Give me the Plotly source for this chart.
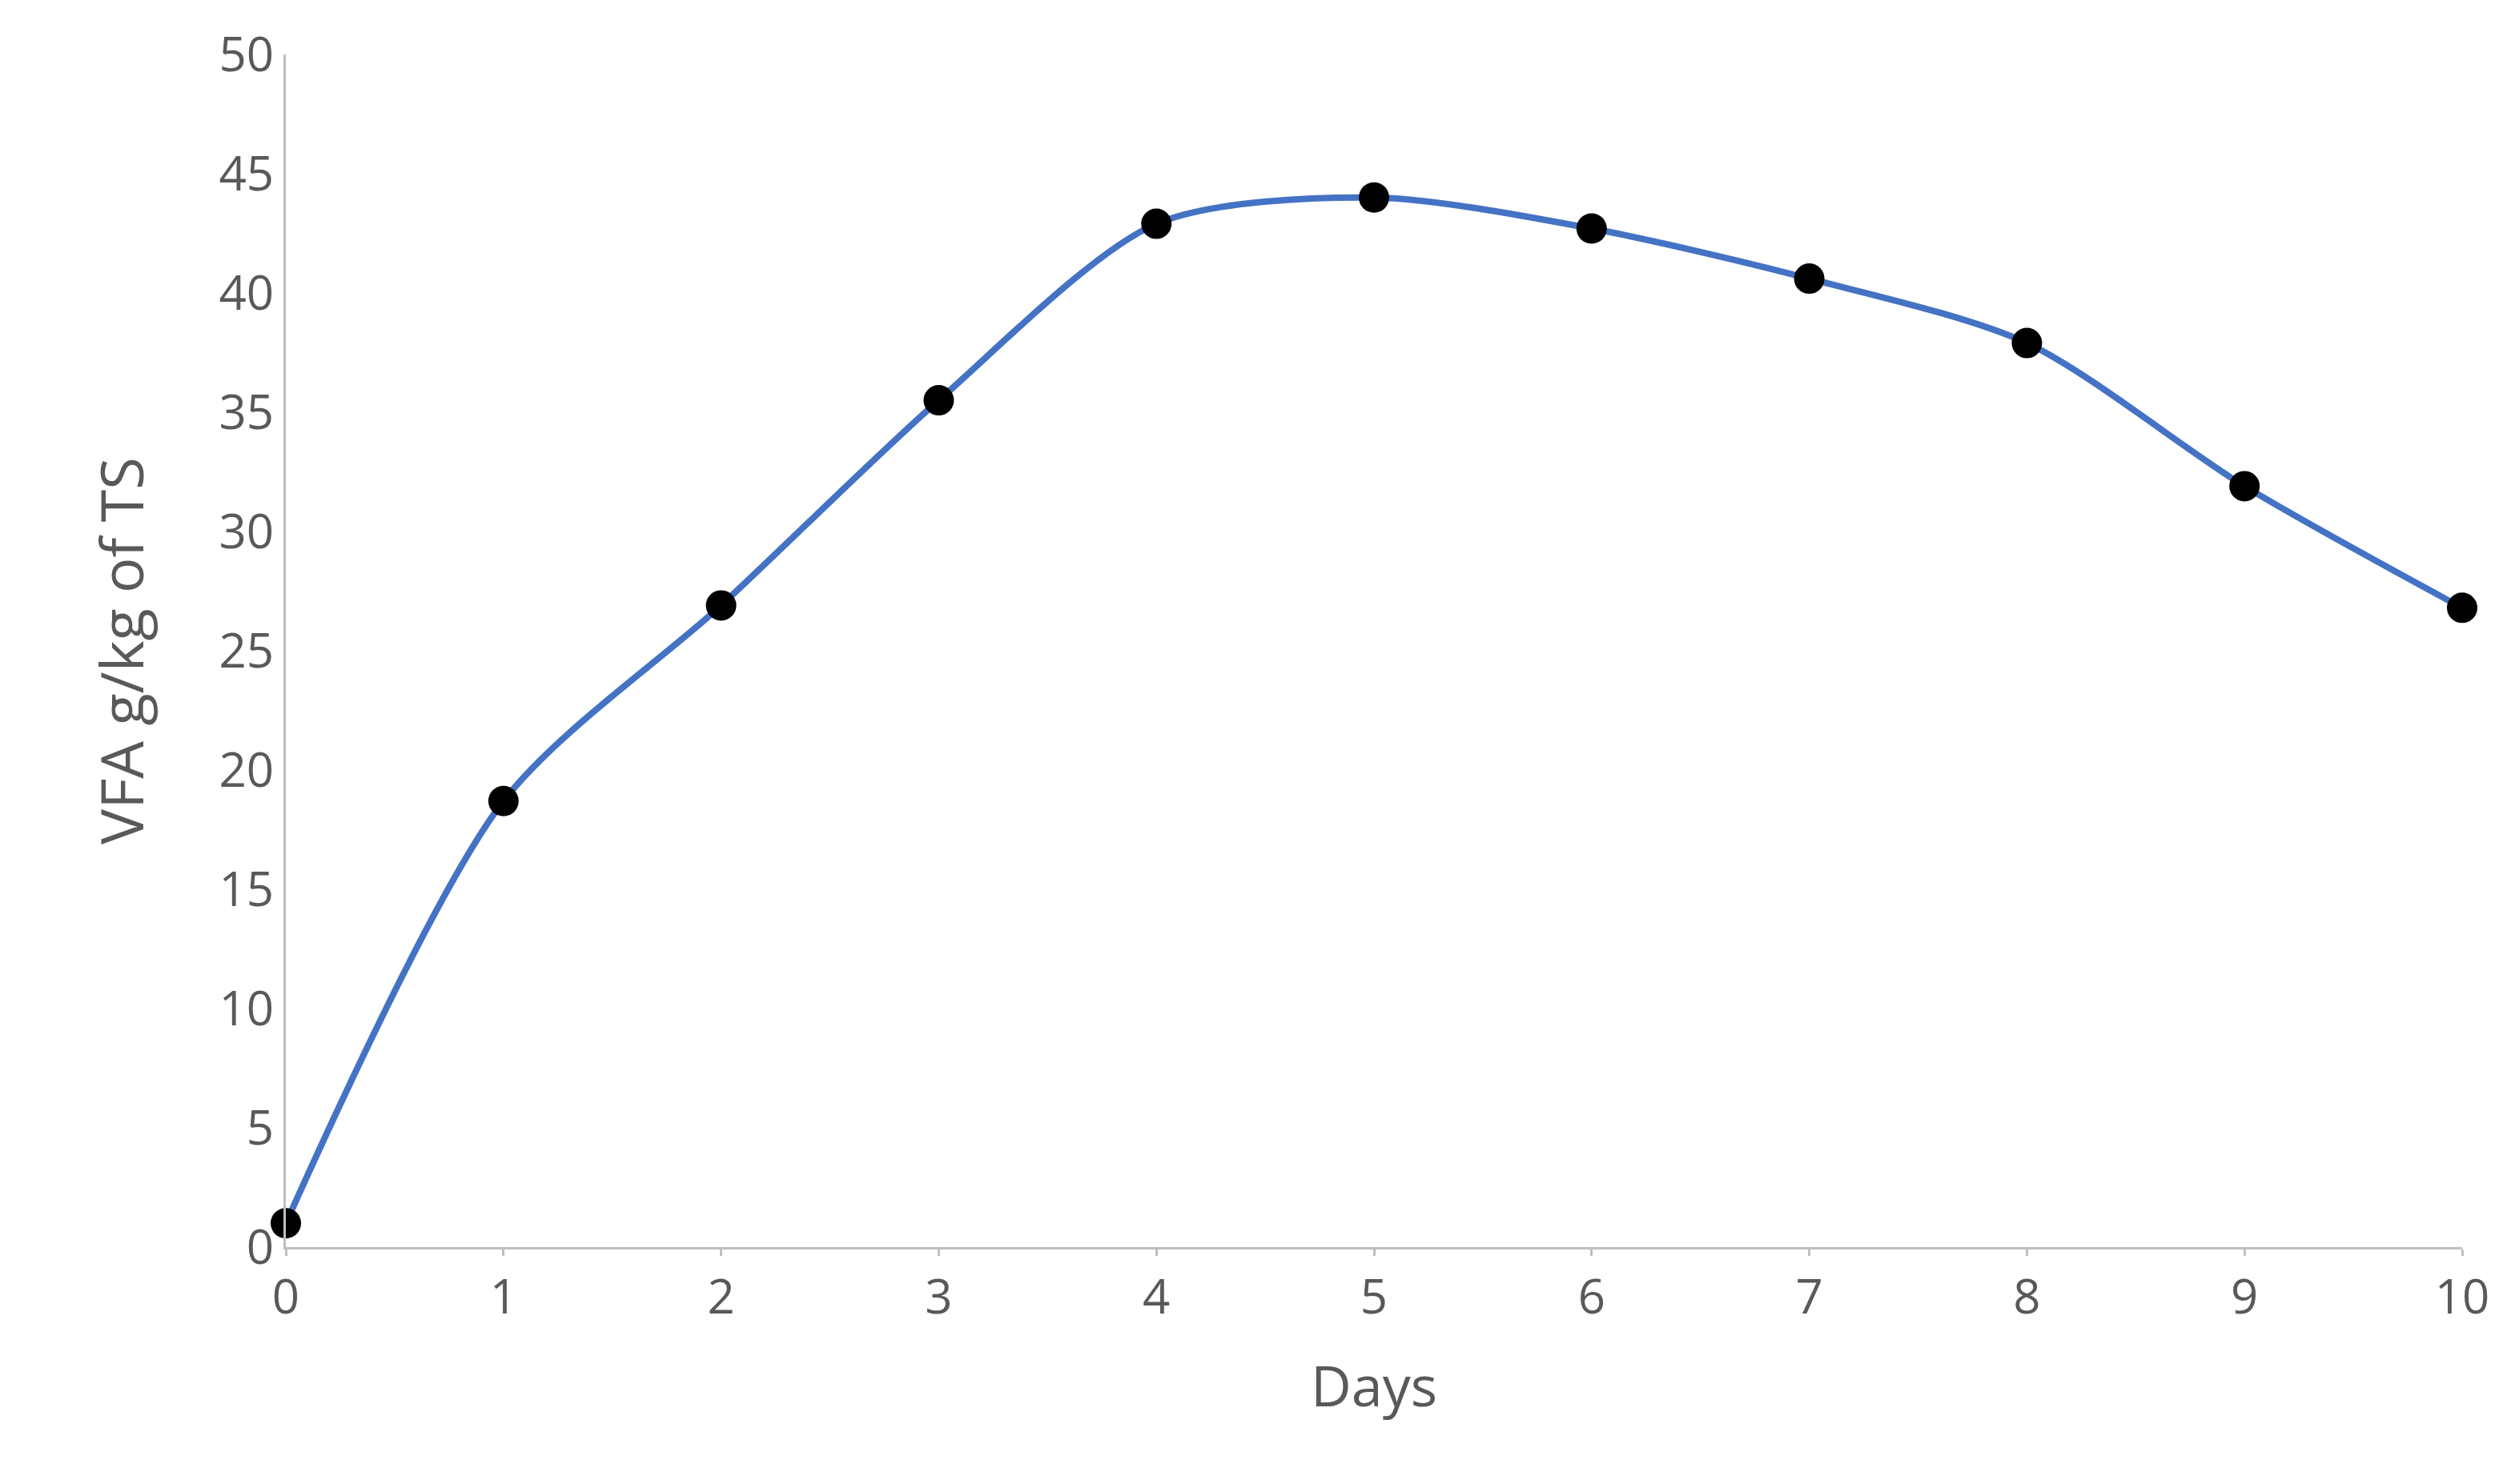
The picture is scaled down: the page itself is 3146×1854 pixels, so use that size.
import plotly.graph_objects as go

days = [0, 1, 2, 3, 4, 5, 6, 7, 8, 9, 10]
vfa = [1.0, 18.7, 26.9, 35.5, 42.9, 44.0, 42.7, 40.6, 37.9, 31.9, 26.8]

fig = go.Figure(go.Scatter(
    x=days, y=vfa, mode="lines+markers", cliponaxis=False,
    line=dict(color="#4472C4", width=8, shape="spline", smoothing=0.8),
    marker=dict(color="black", size=38),
))
font = dict(family="Open Sans, Liberation Sans, sans-serif", color="#595959")
fig.update_layout(
    width=3146, height=1854, plot_bgcolor="white", paper_bgcolor="white",
    margin=dict(l=349, r=79, t=60, b=304), showlegend=False, font=font,
)
fig.update_xaxes(range=[0, 10], tickvals=days, showgrid=False, zeroline=False,
                 showline=True, linecolor="#BFBFBF", linewidth=3,
                 ticks="outside", ticklen=8, tickcolor="#BFBFBF", tickwidth=3,
                 tickfont=dict(size=60, **font),
                 title=dict(text="Days", font=dict(size=70, **font), standoff=50))
fig.update_yaxes(range=[0, 50], dtick=5, showgrid=False, zeroline=False,
                 showline=True, linecolor="#BFBFBF", linewidth=3,
                 tickfont=dict(size=60, **font),
                 title=dict(text="VFA g/kg of TS", font=dict(size=74, **font), standoff=70))
fig.write_html("out.html")
